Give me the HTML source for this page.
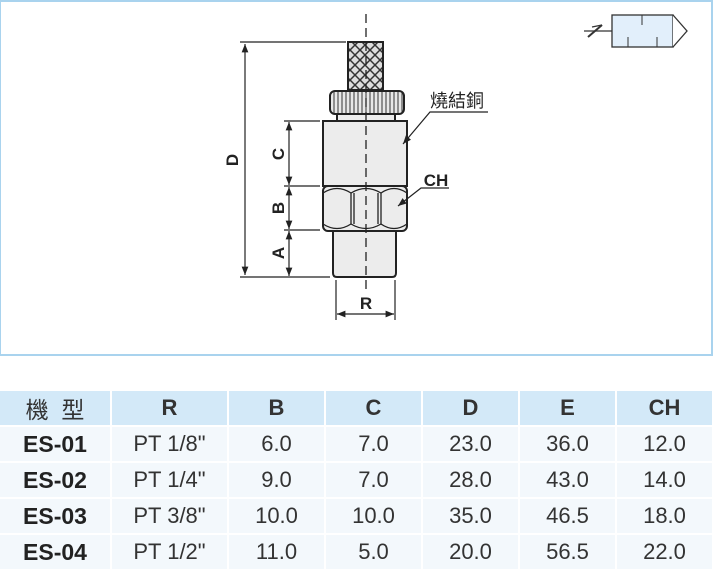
<!DOCTYPE html>
<html><head><meta charset="utf-8"><style>
body{margin:0;width:718px;height:568px;background:#fff;overflow:hidden;font-family:"Liberation Sans","Noto Sans CJK TC",sans-serif}
.box{position:absolute;left:0;top:0;width:710px;height:352px;border:2px solid #a9d3ee;border-left-width:1px}
table{position:absolute;left:0;top:389px;border-collapse:separate;border-spacing:2px;margin-left:-2px}
td{height:34px;text-align:center;font-size:22px;color:#333;padding:0;background:#f3f8fc}
tr.h td{background:#d3e9f8;font-weight:bold;height:32px}
td.m{font-weight:bold;font-size:23px;color:#222}
</style></head><body>
<div class="box"></div>
<svg width="718" height="360" style="position:absolute;left:0;top:0" font-family="Liberation Sans, Noto Sans CJK TC, sans-serif">
<defs>
<marker id="a" viewBox="0 0 10 10" refX="10" refY="5" markerWidth="9" markerHeight="7" orient="auto-start-reverse"><path d="M0,1 L10,5 L0,9z" fill="#222"/></marker>
<pattern id="x" width="10" height="10" patternUnits="userSpaceOnUse"><rect width="10" height="10" fill="#ddd"/><path d="M0,0L10,10M10,0L0,10" stroke="#333" stroke-width="1.5"/></pattern>
<pattern id="k" width="4" height="10" patternUnits="userSpaceOnUse"><rect width="4" height="10" fill="#e8e8e8"/><line x1="2" y1="0" x2="2" y2="10" stroke="#333" stroke-width="1"/></pattern>
</defs>
<!-- icon -->
<rect x="612" y="15" width="61" height="32" fill="#e2effb" stroke="#333" stroke-width="1.3"/>
<path d="M673,15 L687,31 L673,47" fill="#fff" stroke="#333" stroke-width="1.3"/>
<line x1="642" y1="15" x2="642" y2="25" stroke="#333"/><line x1="628" y1="37" x2="628" y2="47" stroke="#333"/><line x1="657" y1="37" x2="657" y2="47" stroke="#333"/>
<line x1="584" y1="31" x2="612" y2="31" stroke="#333" stroke-width="1.3"/>
<line x1="588" y1="37" x2="602" y2="25" stroke="#333" stroke-width="2"/>
<line x1="592" y1="27" x2="602" y2="25" stroke="#333" stroke-width="1.3"/>
<!-- part -->
<g stroke="#222" stroke-width="2">
<rect x="348" y="42" width="35" height="48" fill="url(#x)"/>
<rect x="330" y="91" width="74" height="23" rx="5" fill="url(#k)"/>
<rect x="337" y="114" width="58" height="7" fill="#eee"/>
<rect x="323" y="121" width="84" height="65" fill="#ececec"/>
<rect x="323" y="186" width="84" height="45" rx="5" fill="#ececec"/>
</g>
<g stroke="#222" stroke-width="1.3" fill="none">
<path d="M323,193 Q337,184 351,193 Q366,184 381,193 Q394,184 407,193"/>
<path d="M323,224 Q337,233 351,224 Q366,233 381,224 Q394,233 407,224"/>
<line x1="351" y1="193" x2="351" y2="224"/><line x1="354" y1="193" x2="354" y2="224"/>
<line x1="381" y1="193" x2="381" y2="224"/><line x1="378" y1="193" x2="378" y2="224"/>
</g>
<path d="M333,231 H396 V273 Q396,277 392,277 H337 Q333,277 333,273z" fill="#ececec" stroke="#222" stroke-width="2"/>
<line x1="366" y1="14" x2="366" y2="292" stroke="#222" stroke-width="1.3" stroke-dasharray="9,5"/>
<!-- dims -->
<g stroke="#222" stroke-width="1.2" fill="none">
<line x1="240" y1="42" x2="346" y2="42"/><line x1="240" y1="277" x2="330" y2="277"/>
<line x1="245" y1="44" x2="245" y2="275" marker-start="url(#a)" marker-end="url(#a)"/>
<line x1="284" y1="121" x2="320" y2="121"/><line x1="284" y1="186" x2="320" y2="186"/><line x1="284" y1="230" x2="320" y2="230"/>
<line x1="289" y1="122" x2="289" y2="185" marker-start="url(#a)" marker-end="url(#a)"/>
<line x1="289" y1="187" x2="289" y2="229" marker-start="url(#a)" marker-end="url(#a)"/>
<line x1="289" y1="231" x2="289" y2="276" marker-start="url(#a)" marker-end="url(#a)"/>
<line x1="336" y1="280" x2="336" y2="320"/><line x1="395" y1="280" x2="395" y2="320"/>
<line x1="337" y1="314" x2="394" y2="314" marker-start="url(#a)" marker-end="url(#a)"/>
<path d="M488,112 H430 L403,144" marker-end="url(#a)"/>
<path d="M449,188 H421 L398,206" marker-end="url(#a)"/>
</g>
<g font-weight="bold" font-size="17" fill="#222" text-anchor="middle">
<text transform="translate(238,160) rotate(-90)">D</text>
<text transform="translate(284,154) rotate(-90)">C</text>
<text transform="translate(284,208) rotate(-90)">B</text>
<text transform="translate(284,253) rotate(-90)">A</text>
<text x="366" y="309">R</text>
<text x="436" y="186">CH</text>
</g>
<text x="430" y="107" font-size="18" fill="#222">燒結銅</text>
</svg>
<table>
<tr class="h"><td style="width:110px;font-weight:normal;font-size:23px">機&nbsp;&nbsp;型</td><td style="width:115px">R</td><td style="width:95px">B</td><td style="width:95px">C</td><td style="width:95px">D</td><td style="width:95px">E</td><td style="width:95px">CH</td></tr>
<tr><td class="m">ES-01</td><td>PT 1/8"</td><td>6.0</td><td>7.0</td><td>23.0</td><td>36.0</td><td>12.0</td></tr>
<tr><td class="m">ES-02</td><td>PT 1/4"</td><td>9.0</td><td>7.0</td><td>28.0</td><td>43.0</td><td>14.0</td></tr>
<tr><td class="m">ES-03</td><td>PT 3/8"</td><td>10.0</td><td>10.0</td><td>35.0</td><td>46.5</td><td>18.0</td></tr>
<tr><td class="m">ES-04</td><td>PT 1/2"</td><td>11.0</td><td>5.0</td><td>20.0</td><td>56.5</td><td>22.0</td></tr>
</table>
</body></html>
